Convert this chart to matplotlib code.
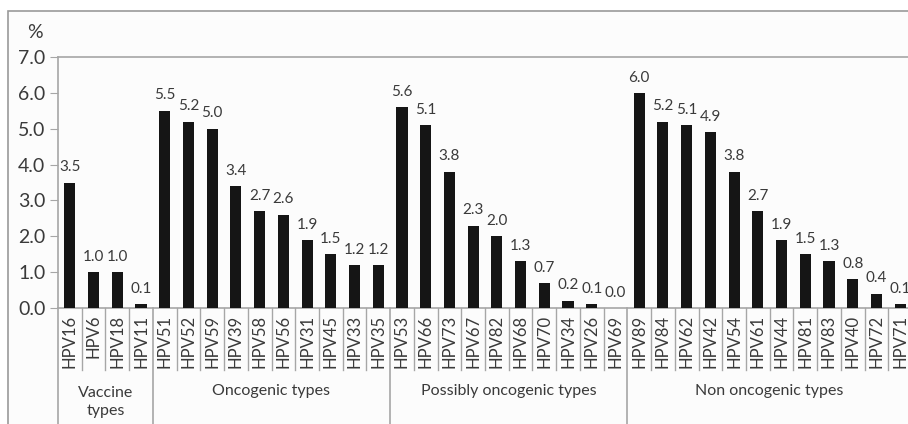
import matplotlib
matplotlib.use("Agg")
import matplotlib.pyplot as plt
from matplotlib.patches import Rectangle
from matplotlib.lines import Line2D

# data
groups = ["Vaccine\ntypes", "Oncogenic types", "Possibly oncogenic types", "Non oncogenic types"]
vaccine_types = ["HPV16", "HPV6", "HPV18", "HPV11"]
vaccine_vals = [3.5, 1.0, 1.0, 0.1]
onco_types = ["HPV51", "HPV52", "HPV59", "HPV39", "HPV58", "HPV56", "HPV31", "HPV45", "HPV33", "HPV35"]
onco_vals = [5.5, 5.2, 5.0, 3.4, 2.7, 2.6, 1.9, 1.5, 1.2, 1.2]
poss_types = ["HPV53", "HPV66", "HPV73", "HPV67", "HPV82", "HPV68", "HPV70", "HPV34", "HPV26", "HPV69"]
poss_vals = [5.6, 5.1, 3.8, 2.3, 2.0, 1.3, 0.7, 0.2, 0.1, 0.0]
non_types = ["HPV89", "HPV84", "HPV62", "HPV42", "HPV54", "HPV61", "HPV44", "HPV81", "HPV83", "HPV40", "HPV72", "HPV71"]
non_vals = [6.0, 5.2, 5.1, 4.9, 3.8, 2.7, 1.9, 1.5, 1.3, 0.8, 0.4, 0.1]

names = vaccine_types + onco_types + poss_types + non_types
vals = vaccine_vals + onco_vals + poss_vals + non_vals
sizes = [len(vaccine_types), len(onco_types), len(poss_types), len(non_types)]

plt.rcParams['font.family'] = ['Lato', 'DejaVu Sans']
txt = '#3a3a3a'
grid = '#a6a6a6'

W, H = 908, 424
fig = plt.figure(figsize=(W / 100, H / 100), dpi=100, facecolor='white')

# outer chart border (cut off on the right and bottom like the reference)
border = Rectangle((8 / W, -0.1), 1.2, (H - 11) / H + 0.1, transform=fig.transFigure,
                   facecolor='#fcfcfc', edgecolor='#9a9a9a', lw=1.2, zorder=-10)
fig.patches.append(border)

x0, x1, ytop, ybot = 58, 912, 57, 308
ax = fig.add_axes([x0 / W, (H - ybot) / H, (x1 - x0) / W, (ybot - ytop) / H])
ax.patch.set_alpha(0)

xs = list(range(len(names)))
ax.bar(xs, vals, width=0.47, color='#151515', zorder=3)
for x, v in zip(xs, vals):
    ax.annotate("%.1f" % v, (x, v), xytext=(0, 6), textcoords='offset points',
                ha='center', va='bottom', fontsize=11, color=txt)

ax.set_xlim(-0.5, len(names) - 0.5)
ax.set_ylim(0, 7)
ax.set_yticks([i for i in range(8)])
ax.set_yticklabels(["%.1f" % i for i in range(8)], fontsize=14, color=txt)
ax.tick_params(axis='y', length=6, color=grid, pad=3)
ax.set_xticks([])
for s in ['left', 'bottom', 'top', 'right']:
    ax.spines[s].set_color(grid)
    ax.spines[s].set_linewidth(1.2)

trans = ax.get_xaxis_transform()
axh = ybot - ytop
# category labels and small separators
for x, n in zip(xs, names):
    ax.text(x, -7 / axh, n, rotation=90, ha='center', va='top', fontsize=12,
            color=txt, transform=trans)
bounds = [-0.5]
for s in sizes:
    bounds.append(bounds[-1] + s)
for k in range(len(names) + 1):
    b = k - 0.5
    if b in bounds:
        ax.add_line(Line2D([b, b], [0, -130 / axh], color=grid, lw=1.2, transform=trans, clip_on=False))
    else:
        ax.add_line(Line2D([b, b], [0, -62 / axh], color=grid, lw=1.0, transform=trans, clip_on=False))

# group labels
for i, g in enumerate(groups):
    c = (bounds[i] + bounds[i + 1]) / 2
    yy = -94 / axh if "\n" in g else -83 / axh
    ax.text(c, yy, g, ha='center', va='center', fontsize=11.5, color=txt,
            transform=trans, linespacing=1.3)

fig.text(35 / W, 1 - 33 / H, "%", ha='center', va='center', fontsize=14, color=txt)

fig.savefig("out.png", dpi=100)
